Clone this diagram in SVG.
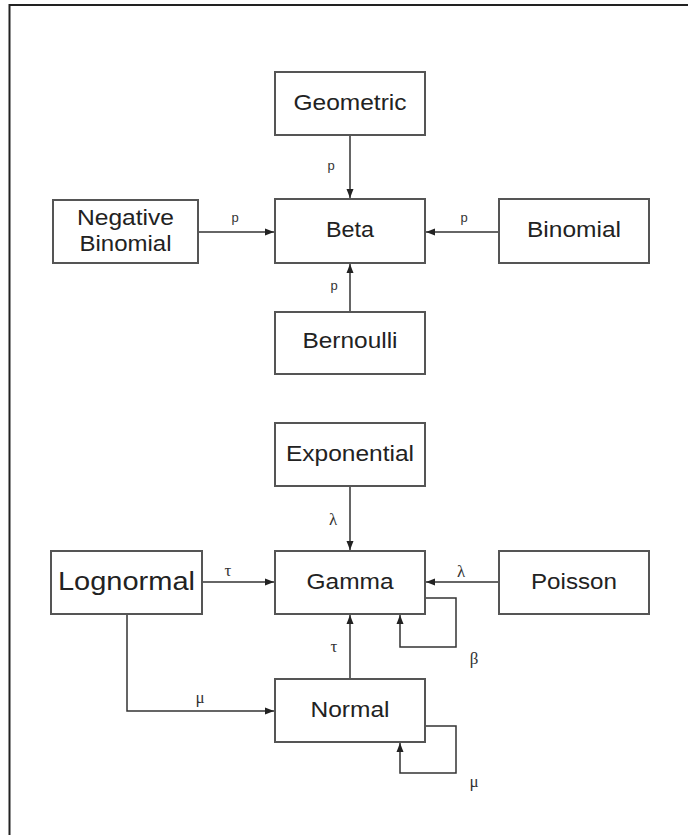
<svg xmlns="http://www.w3.org/2000/svg" width="688" height="835" viewBox="0 0 688 835">
<defs>
<marker id="ah" markerWidth="10" markerHeight="8" refX="9" refY="4" orient="auto" markerUnits="userSpaceOnUse">
<path d="M0,0.5 L9,4 L0,7.5 Z" fill="#222"/>
</marker>
<style>
.box{fill:#fff;stroke:#555;stroke-width:2}
.t{font-family:"Liberation Sans",Arial,sans-serif;font-size:22px;fill:#222;text-anchor:middle}
.lp{font-family:"Liberation Sans",Arial,sans-serif;font-size:13px;fill:#333;text-anchor:middle}
.lg{font-family:"Liberation Serif","Times New Roman",serif;font-size:17px;fill:#333;text-anchor:middle}
.c{fill:none;stroke:#333;stroke-width:1.5}
.frame{fill:none;stroke:#222;stroke-width:2}
</style>
</defs>
<rect width="688" height="835" fill="#fff"/>
<path class="frame" d="M9.5,835 L9.5,5 L688,5"/>

<g id="geometric"><rect class="box" x="275" y="72" width="150" height="63"/><text class="t" x="350" y="110" textLength="113" lengthAdjust="spacingAndGlyphs">Geometric</text></g>
<g id="negbinomial"><rect class="box" x="53" y="200" width="145" height="63"/><text class="t" x="125.5" y="225" textLength="97" lengthAdjust="spacingAndGlyphs">Negative</text><text class="t" x="125.5" y="251" textLength="92" lengthAdjust="spacingAndGlyphs">Binomial</text></g>
<g id="beta"><rect class="box" x="275" y="199" width="150" height="64"/><text class="t" x="350" y="237" textLength="48" lengthAdjust="spacingAndGlyphs">Beta</text></g>
<g id="binomial"><rect class="box" x="499" y="199" width="150" height="64"/><text class="t" x="574" y="237" textLength="94" lengthAdjust="spacingAndGlyphs">Binomial</text></g>
<g id="bernoulli"><rect class="box" x="275" y="312" width="150" height="62"/><text class="t" x="350" y="348" textLength="95" lengthAdjust="spacingAndGlyphs">Bernoulli</text></g>

<g id="exponential"><rect class="box" x="275" y="423" width="150" height="63"/><text class="t" x="350" y="461" textLength="128" lengthAdjust="spacingAndGlyphs">Exponential</text></g>
<g id="lognormal"><rect class="box" x="51" y="551" width="151" height="63"/><text class="t" x="126.5" y="590" style="font-size:26px" textLength="137" lengthAdjust="spacingAndGlyphs">Lognormal</text></g>
<g id="gamma"><rect class="box" x="275" y="551" width="150" height="63"/><text class="t" x="350" y="589" textLength="87" lengthAdjust="spacingAndGlyphs">Gamma</text></g>
<g id="poisson"><rect class="box" x="499" y="551" width="150" height="63"/><text class="t" x="574" y="589" textLength="86" lengthAdjust="spacingAndGlyphs">Poisson</text></g>
<g id="normal"><rect class="box" x="275" y="679" width="150" height="63"/><text class="t" x="350" y="717" textLength="79" lengthAdjust="spacingAndGlyphs">Normal</text></g>

<g id="connectors">
<path class="c" d="M350,136 L350,198" marker-end="url(#ah)"/>
<path class="c" d="M199,232 L274,232" marker-end="url(#ah)"/>
<path class="c" d="M498,232 L426,232" marker-end="url(#ah)"/>
<path class="c" d="M350,311 L350,264" marker-end="url(#ah)"/>
<path class="c" d="M350,487 L350,550" marker-end="url(#ah)"/>
<path class="c" d="M203,582 L274,582" marker-end="url(#ah)"/>
<path class="c" d="M498,582 L426,582" marker-end="url(#ah)"/>
<path class="c" d="M426,598 L456,598 L456,647 L400,647 L400,615" marker-end="url(#ah)"/>
<path class="c" d="M350,678 L350,615" marker-end="url(#ah)"/>
<path class="c" d="M127,615 L127,711 L274,711" marker-end="url(#ah)"/>
<path class="c" d="M426,726 L456,726 L456,773 L400,773 L400,743" marker-end="url(#ah)"/>
<text class="lp" x="331" y="170">p</text>
<text class="lp" x="235" y="222">p</text>
<text class="lp" x="464" y="222">p</text>
<text class="lp" x="334" y="290">p</text>
<text class="lg" x="333" y="525">λ</text>
<text class="lg" x="228" y="576">τ</text>
<text class="lg" x="461" y="577">λ</text>
<text class="lg" x="334" y="652">τ</text>
<text class="lg" x="474" y="664">β</text>
<text class="lg" x="200" y="703">μ</text>
<text class="lg" x="474" y="787">μ</text>
</g>
</svg>
